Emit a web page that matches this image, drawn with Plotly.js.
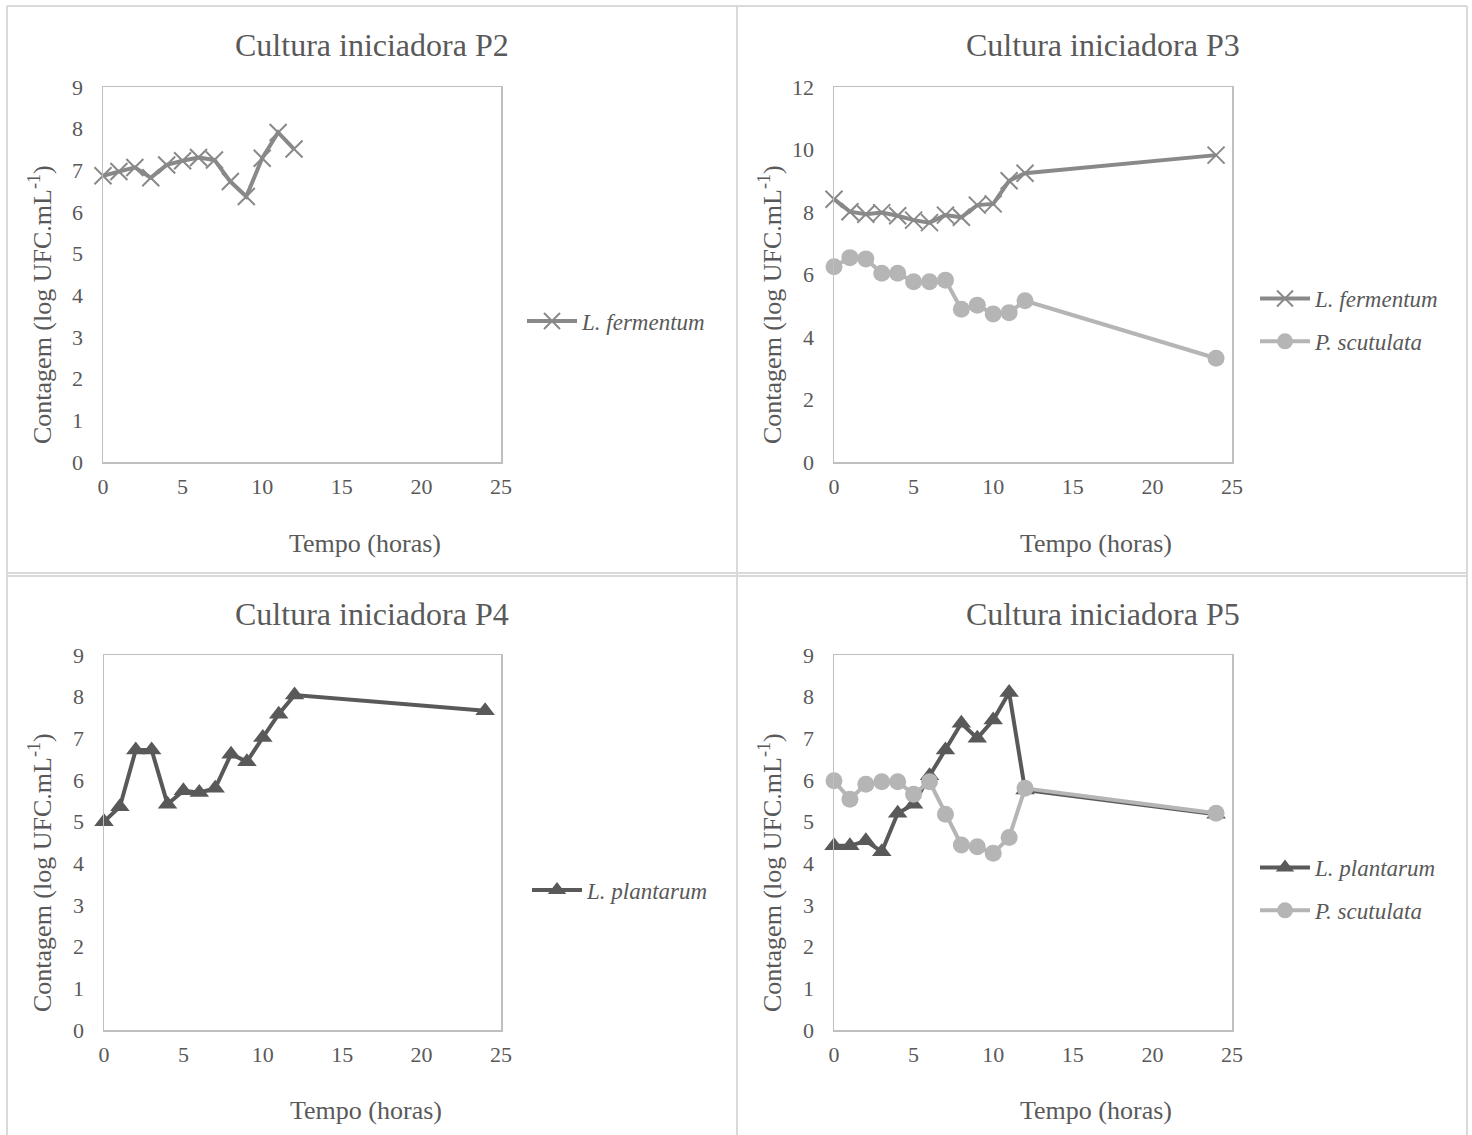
<!DOCTYPE html>
<html>
<head>
<meta charset="utf-8">
<script src="https://cdn.plot.ly/plotly-3.0.1.min.js"></script>
<style>
  html, body { margin: 0; padding: 0; background: #ffffff; }
  #chart { width: 1472px; height: 1135px; }
</style>
</head>
<body>
<div id="chart"></div>
<script>
// Sampling times (hours)
const hoursP2 = [0, 1, 2, 3, 4, 5, 6, 7, 8, 9, 10, 11, 12];
const hoursLong = [0, 1, 2, 3, 4, 5, 6, 7, 8, 9, 10, 11, 12, 24];

// Counts, log UFC.mL-1
const p2Fermentum = [6.87, 6.97, 7.07, 6.82, 7.13, 7.23, 7.31, 7.25, 6.73, 6.37, 7.29, 7.91, 7.51];
const p3Fermentum = [8.41, 8.01, 7.93, 7.98, 7.88, 7.74, 7.66, 7.90, 7.83, 8.22, 8.26, 9.00, 9.24, 9.82];
const p3Scutulata = [6.25, 6.54, 6.50, 6.04, 6.04, 5.77, 5.77, 5.82, 4.89, 5.02, 4.74, 4.78, 5.16, 3.32];
const p4Plantarum = [5.00, 5.36, 6.72, 6.72, 5.42, 5.74, 5.70, 5.80, 6.62, 6.44, 7.02, 7.58, 8.04, 7.66];
const p5Plantarum = [4.42, 4.42, 4.54, 4.28, 5.20, 5.42, 6.10, 6.72, 7.36, 7.00, 7.44, 8.10, 5.76, 5.18];
const p5Scutulata = [5.98, 5.54, 5.90, 5.96, 5.96, 5.66, 5.96, 5.18, 4.44, 4.40, 4.24, 4.62, 5.80, 5.20];

const panelTitles = ['Cultura iniciadora P2', 'Cultura iniciadora P3', 'Cultura iniciadora P4', 'Cultura iniciadora P5'];
const xTitle = 'Tempo (horas)';
const yTitle = 'Contagem (log UFC.mL<sup>-1</sup>)';
const nameFermentum = '<i>L. fermentum</i>';
const nameScutulata = '<i>P. scutulata</i>';
const namePlantarum = '<i>L. plantarum</i>';

const W = 1472, H = 1135;
const px = v => v / W;
const py = v => 1 - v / H;

const FONT = 'Liberation Serif';
const TEXT = '#595959';
const C_FERM = '#898989';
const C_SCUT = '#b5b5b5';
const C_PLANT = '#595959';

function fermentum(x, y, xa, ya, lg) {
  return {
    x: x, y: y, xaxis: xa, yaxis: ya, legend: lg, legendgroup: lg + 'f', name: nameFermentum,
    type: 'scatter', mode: 'lines+markers', cliponaxis: false,
    line: { color: C_FERM, width: 4 },
    marker: { symbol: 'x-thin-open', size: 17, color: C_FERM, line: { color: C_FERM, width: 2 } }
  };
}
function scutulata(x, y, xa, ya, lg) {
  return {
    x: x, y: y, xaxis: xa, yaxis: ya, legend: lg, legendgroup: lg + 's', name: nameScutulata,
    type: 'scatter', mode: 'lines+markers', cliponaxis: false,
    line: { color: C_SCUT, width: 4 },
    marker: { symbol: 'circle', size: 17, color: C_SCUT }
  };
}
function plantarum(x, y, xa, ya, lg) {
  return {
    x: x, y: y, xaxis: xa, yaxis: ya, legend: lg, legendgroup: lg + 'p', name: namePlantarum,
    type: 'scatter', mode: 'lines+markers', cliponaxis: false,
    line: { color: C_PLANT, width: 4 },
    marker: { symbol: 'triangle-up', size: 17, color: C_PLANT }
  };
}

const data = [
  fermentum(hoursP2, p2Fermentum, 'x', 'y', 'legend'),
  fermentum(hoursLong, p3Fermentum, 'x2', 'y2', 'legend2'),
  scutulata(hoursLong, p3Scutulata, 'x2', 'y2', 'legend2'),
  plantarum(hoursLong, p4Plantarum, 'x3', 'y3', 'legend3'),
  plantarum(hoursLong, p5Plantarum, 'x4', 'y4', 'legend4'),
  scutulata(hoursLong, p5Scutulata, 'x4', 'y4', 'legend4')
];

// Plot-area boxes in pixels: [left, right, top, bottom]
const boxes = [
  [103, 501, 87, 462],
  [834, 1232, 87, 462],
  [104, 501, 655, 1030],
  [834, 1232, 655, 1030]
];
const yRanges = [[0, 9, 1], [0, 12, 2], [0, 9, 1], [0, 9, 1]];

function xAxis(i) {
  const b = boxes[i];
  return {
    domain: [px(b[0]), px(b[1])], anchor: i === 0 ? 'y' : 'y' + (i + 1),
    range: [0, 25], tickmode: 'linear', tick0: 0, dtick: 5,
    showgrid: false, zeroline: false, showline: true, mirror: true,
    linecolor: '#bfbfbf', linewidth: 1.5, ticks: '', ticklabelstandoff: 4,
    tickfont: { family: FONT, size: 22, color: TEXT }, fixedrange: true
  };
}
function yAxis(i) {
  const b = boxes[i];
  const r = yRanges[i];
  return {
    domain: [py(b[3]), py(b[2])], anchor: i === 0 ? 'x' : 'x' + (i + 1),
    range: [r[0], r[1]], tickmode: 'linear', tick0: 0, dtick: r[2],
    showgrid: false, zeroline: false, showline: true, mirror: true,
    linecolor: '#bfbfbf', linewidth: 1.5, ticks: '', ticklabelstandoff: 14,
    tickfont: { family: FONT, size: 22, color: TEXT }, fixedrange: true
  };
}

function legendAt(xPix, yPix) {
  return {
    x: px(xPix), y: py(yPix), xanchor: 'left', yanchor: 'middle',
    bgcolor: 'rgba(0,0,0,0)', borderwidth: 0,
    font: { family: FONT, size: 23, color: TEXT },
    itemwidth: 50, tracegroupgap: 10, traceorder: 'grouped'
  };
}

// Chart-area centres used for titles and axis titles
const areaCx = [372, 1103, 372, 1103];
const titleY = [45, 45, 614, 614];
const xTitleY = [543, 543, 1110, 1110];
const yTitleX = [40, 770, 40, 770];
const yTitleY = [305, 305, 873, 873];

const annotations = [];
for (let i = 0; i < 4; i++) {
  annotations.push({
    xref: 'paper', yref: 'paper', x: px(areaCx[i]), y: py(titleY[i]),
    xanchor: 'center', yanchor: 'middle', showarrow: false,
    text: panelTitles[i], font: { family: FONT, size: 32, color: TEXT }
  });
  annotations.push({
    xref: 'paper', yref: 'paper', x: px((boxes[i][0] + boxes[i][1]) / 2 + 63), y: py(xTitleY[i]),
    xanchor: 'center', yanchor: 'middle', showarrow: false,
    text: xTitle, font: { family: FONT, size: 26, color: TEXT }
  });
  annotations.push({
    xref: 'paper', yref: 'paper', x: px(yTitleX[i]), y: py(yTitleY[i]),
    xanchor: 'center', yanchor: 'middle', showarrow: false, textangle: -90,
    text: yTitle, font: { family: FONT, size: 26, color: TEXT }
  });
}

// Frames around each chart cell
const frame = { color: '#d9d9d9', width: 2 };
const shapes = [
  { type: 'line', xref: 'paper', yref: 'paper', x0: px(7), x1: px(1467), y0: py(6), y1: py(6), line: frame },
  { type: 'line', xref: 'paper', yref: 'paper', x0: px(7), x1: px(7), y0: py(6), y1: py(1135), line: frame },
  { type: 'line', xref: 'paper', yref: 'paper', x0: px(1467), x1: px(1467), y0: py(6), y1: py(1135), line: frame },
  { type: 'line', xref: 'paper', yref: 'paper', x0: px(737), x1: px(737), y0: py(6), y1: py(1135), line: frame },
  { type: 'line', xref: 'paper', yref: 'paper', x0: px(7), x1: px(1467), y0: py(573), y1: py(573), line: frame },
  { type: 'line', xref: 'paper', yref: 'paper', x0: px(7), x1: px(1467), y0: py(576), y1: py(576), line: frame }
];

const layout = {
  width: W, height: H,
  margin: { l: 0, r: 0, t: 0, b: 0 },
  paper_bgcolor: '#ffffff', plot_bgcolor: '#ffffff',
  font: { family: FONT, color: TEXT },
  xaxis: xAxis(0), yaxis: yAxis(0),
  xaxis2: xAxis(1), yaxis2: yAxis(1),
  xaxis3: xAxis(2), yaxis3: yAxis(2),
  xaxis4: xAxis(3), yaxis4: yAxis(3),
  legend: legendAt(522, 321),
  legend2: legendAt(1255, 320),
  legend3: legendAt(527, 890),
  legend4: legendAt(1255, 889),
  annotations: annotations,
  shapes: shapes,
  showlegend: true
};

Plotly.newPlot('chart', data, layout, { displayModeBar: false, staticPlot: true });
</script>
</body>
</html>
